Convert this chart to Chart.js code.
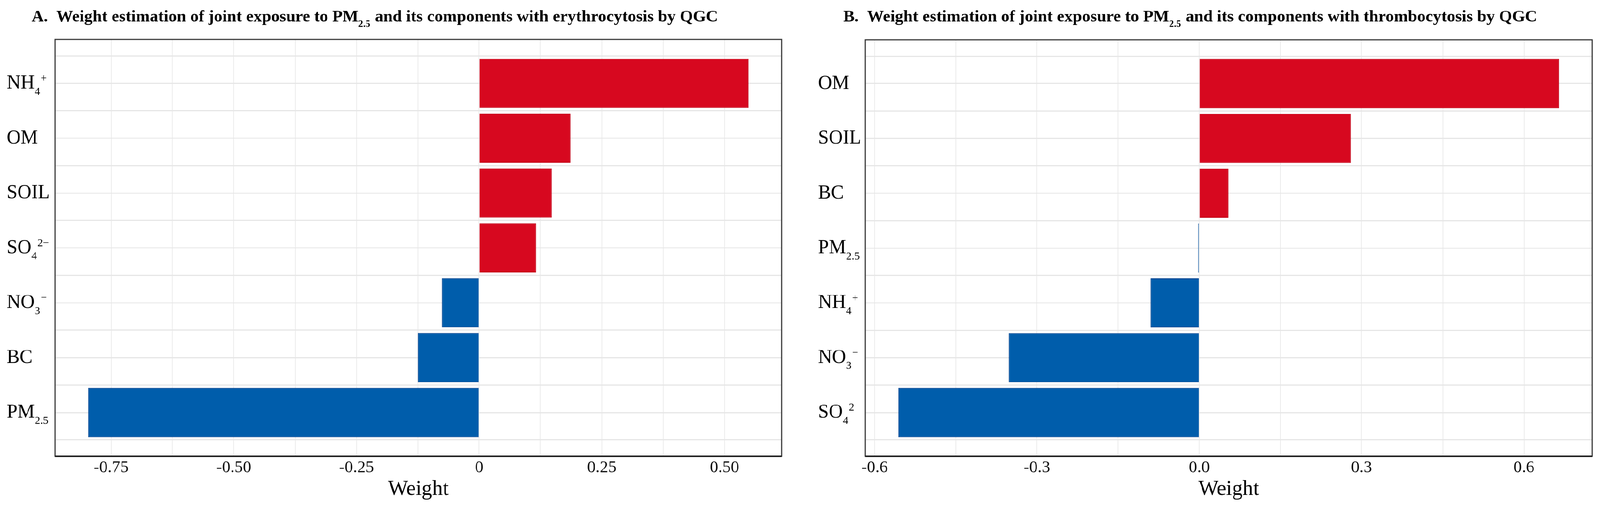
<!DOCTYPE html>
<html>
<head>
<meta charset="utf-8">
<script src="https://cdn.jsdelivr.net/npm/chart.js@4.4.0/dist/chart.umd.min.js"></script>
<style>
  html, body { margin: 0; background: #fff; overflow: hidden; }
  #stage { position: absolute; left: 0; top: 0; width: 4299px; height: 1363px; transform-origin: 0 0; }
  .panel { position: absolute; top: 0; height: 1363px; }
  #panelA { left: 0; width: 2150px; }
  #panelB { left: 2150px; width: 2149px; }
</style>
</head>
<body>
<div id="stage">
  <div class="panel" id="panelA"><canvas id="chartA"></canvas></div>
  <div class="panel" id="panelB"><canvas id="chartB"></canvas></div>
</div>
<script>
// _{..} = subscript, ^{..} = superscript
const catsA = ['NH_{4}^{+}', 'OM', 'SOIL', 'SO_{4}^{2−}', 'NO_{3}^{−}', 'BC', 'PM_{2.5}'];
const weightsA = [0.549, 0.186, 0.148, 0.116, -0.076, -0.125, -0.797];
const ticksA = [-0.75, -0.5, -0.25, 0, 0.25, 0.5];
const tickLabelsA = ['-0.75', '-0.50', '-0.25', '0', '0.25', '0.50'];
const titleA = 'A.  Weight estimation of joint exposure to PM_{2.5} and its components with erythrocytosis by QGC';

const catsB = ['OM', 'SOIL', 'BC', 'PM_{2.5}', 'NH_{4}^{+}', 'NO_{3}^{−}', 'SO_{4}^{2}'];
const weightsB = [0.665, 0.280, 0.054, -0.002, -0.090, -0.352, -0.556];
const ticksB = [-0.6, -0.3, 0, 0.3, 0.6];
const tickLabelsB = ['-0.6', '-0.3', '0.0', '0.3', '0.6'];
const titleB = 'B.  Weight estimation of joint exposure to PM_{2.5} and its components with thrombocytosis by QGC';

const FONT = '"Liberation Serif", "Times New Roman", serif';

// the page is laid out at 4299x1363, fit it into whatever viewport we get
const fit = Math.min(window.innerWidth / 4299, window.innerHeight / 1363);
document.getElementById('stage').style.transform = 'scale(' + fit + ')';

const richText = (ctx, markup, x, y, size, bold) => {
    const parts = markup.match(/_\{[^}]*\}|\^\{[^}]*\}|[^_^]+/g);
    ctx.save();
    ctx.textBaseline = 'alphabetic';
    ctx.textAlign = 'left';
    ctx.fillStyle = '#000';
    parts.forEach((p) => {
        let txt = p, s = size, dy = 0;
        if (p.startsWith('_{')) {
            txt = p.slice(2, -1); s = size * 0.57; dy = size * 0.32;
        } else if (p.startsWith('^{')) {
            txt = p.slice(2, -1); s = size * 0.55; dy = -size * 0.36;
        }
        ctx.font = (bold ? 'bold ' : '') + s + 'px ' + FONT;
        ctx.fillText(txt, x, y + dy);
        x += ctx.measureText(txt).width + (p.startsWith('_{') ? size * 0.03 : 0);
    });
    ctx.restore();
};

const buildChart = (canvasId, cats, weights, ticks, tickLabels, title, opts) => {
    const lo = Math.min(...weights, 0);
    const hi = Math.max(...weights, 0);
    const pad = (hi - lo) * 0.05;
    const step = ticks[1] - ticks[0];

    const decor = {
        id: 'decor',
        afterDraw: (chart) => {
            const ctx = chart.ctx;
            const area = chart.chartArea;
            const y = chart.scales.y;
            // frame
            ctx.save();
            ctx.strokeStyle = '#3a3a3a';
            ctx.lineWidth = 3;
            ctx.strokeRect(area.left, area.top, area.right - area.left, area.bottom - area.top);
            ctx.strokeStyle = '#222';
            ctx.lineWidth = 4;
            ctx.beginPath();
            ctx.moveTo(area.left, area.bottom);
            ctx.lineTo(area.right, area.bottom);
            ctx.stroke();
            ctx.restore();
            // category labels
            cats.forEach((c, i) => {
                richText(ctx, c, opts.labelX, y.getPixelForValue(i + 1) + 14, 52, false);
            });
            // panel title
            richText(ctx, title, opts.titleX, 58, 45, true);
        },
    };

    new Chart(document.getElementById(canvasId), {
        type: 'bar',
        data: {
            datasets: [
                {
                    data: weights.map((v, i) => ({ x: v, y: i + 1 })),
                    backgroundColor: (c) => (weights[c.dataIndex] >= 0 ? '#d7081f' : '#005dab'),
                    borderColor: (c) => (weights[c.dataIndex] >= 0 ? '#c20014' : '#00418f'),
                    borderWidth: 2,
                    categoryPercentage: 1,
                    // the ruler takes the 0.5 grid step as its unit, so 1.8 here = 0.9 of a category
                    barPercentage: 1.8,
                },
            ],
        },
        options: {
            indexAxis: 'y',
            responsive: true,
            maintainAspectRatio: false,
            devicePixelRatio: 1,
            animation: false,
            layout: {
                padding: { left: opts.left, right: opts.right, top: opts.top, bottom: 18 },
            },
            scales: {
                x: {
                    type: 'linear',
                    min: lo - pad,
                    max: hi + pad,
                    afterBuildTicks: (s) => {
                        const vals = [];
                        ticks.forEach((t) => {
                            vals.push(t);
                            if (t + step / 2 < s.max) vals.push(t + step / 2);
                            if (t === ticks[0] && t - step / 2 > s.min) vals.push(t - step / 2);
                        });
                        s.ticks = vals.sort((a, b) => a - b).map((v) => ({ value: v }));
                    },
                    ticks: {
                        autoSkip: false,
                        maxRotation: 0,
                        padding: 9,
                        color: '#111',
                        font: { family: FONT, size: 45, lineHeight: 1 },
                        callback: (v) => {
                            const i = ticks.findIndex((t) => Math.abs(t - v) < 1e-9);
                            return i >= 0 ? tickLabels[i] : '';
                        },
                    },
                    grid: { color: '#ebebeb', lineWidth: 2, drawTicks: false },
                    border: { display: false },
                    title: {
                        display: true,
                        text: 'Weight',
                        color: '#000',
                        padding: { top: -2, bottom: 0 },
                        font: { family: FONT, size: 57, lineHeight: 1 },
                    },
                },
                y: {
                    type: 'linear',
                    reverse: true,
                    offset: false,
                    min: 0.2,
                    max: cats.length + 0.8,
                    afterBuildTicks: (s) => {
                        const vals = [];
                        for (let v = 0.5; v <= cats.length + 0.5; v += 0.5) vals.push({ value: v });
                        s.ticks = vals;
                    },
                    ticks: { display: false },
                    grid: { color: '#e6e6e6', lineWidth: 3, drawTicks: false, offset: false },
                    border: { display: false },
                },
            },
            plugins: {
                legend: { display: false },
                tooltip: { enabled: false },
                title: { display: false },
            },
        },
        plugins: [decor],
    });
};

buildChart('chartA', catsA, weightsA, ticksA, tickLabelsA, titleA,
    { left: 148, right: 50, top: 106, labelX: 18, titleX: 85 });
buildChart('chartB', catsB, weightsB, ticksB, tickLabelsB, titleB,
    { left: 175, right: 21, top: 107, labelX: 48, titleX: 116 });
</script>
</body>
</html>
